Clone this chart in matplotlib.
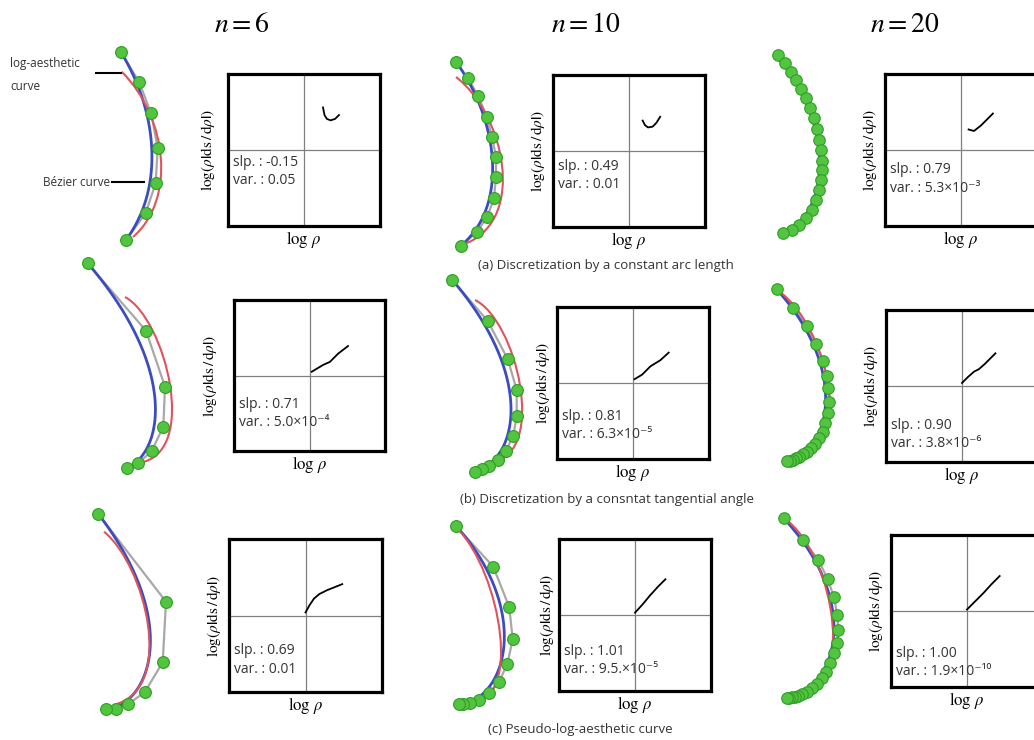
import numpy as np
import matplotlib.pyplot as plt
from matplotlib.path import Path
from matplotlib.patches import PathPatch

plt.rcParams['mathtext.fontset'] = 'stix'
SANS = ['Open Sans', 'DejaVu Sans']

W, H = 1034, 740

# green control points of the Bezier curves (page pixel coords)
ctrl_a6 = [(120.7, 51.7), (139, 81.7), (151, 113), (157.7, 147.7), (155.7, 183),
           (145.7, 213), (126, 240)]
ctrl_a10 = [(456, 61.7), (467.7, 78.3), (478.3, 96), (486.7, 116.7), (492, 136.7),
            (496, 156.7), (496, 176.7), (494, 198.3), (487.3, 216.7), (476.7, 232.3),
            (460.7, 246)]
ctrl_a20 = [(778.3, 55), (785, 63.3), (790.7, 71.7), (796, 80), (800.7, 89.3),
            (806, 98.3), (810, 108.3), (814, 118.3), (817.3, 129.3), (819.3, 140),
            (821, 150), (821.7, 160.7), (821.7, 170), (820.7, 180), (819, 190),
            (816, 200), (811.7, 210), (806, 218.3), (799.3, 225), (791.7, 230),
            (782.7, 232.7)]
ctrl_b6 = [(87.7, 263.3), (146, 330.7), (165, 386.7), (163.3, 426.7), (151.7, 451),
           (138.3, 463.3), (126.7, 468.3)]
ctrl_b10 = [(452.3, 280), (487.7, 321), (507.7, 359), (516.7, 390), (516.7, 415.7),
            (513.3, 435.7), (506, 450.7), (497.7, 460.3), (489.3, 465.7),
            (481.7, 469.3), (475, 471.7)]
ctrl_b20 = [(776.7, 289.3), (793.3, 307.7), (806.7, 326), (816, 344), (822.7, 360.7),
            (826.7, 376), (828.3, 388.3), (828.7, 401.7), (827.7, 413.3),
            (825.3, 423.3), (822.7, 431.7), (819.3, 438.3), (815, 444), (810.7, 448.3),
            (806.7, 451.7), (802.7, 454.3), (799, 456.7), (795.7, 458.3),
            (792.7, 459.7), (790, 460.7), (787.3, 461.3)]
ctrl_c6 = [(98.3, 514), (166, 601.7), (162.7, 662.3), (145, 691.7), (128.3, 704.3),
           (116, 709), (106, 709)]
ctrl_c10 = [(456, 526), (493.3, 566.7), (509.3, 607.3), (512.7, 639.3), (507.3, 664.3),
            (499, 681.7), (489.3, 693.3), (479.3, 700), (470, 703.3), (463.3, 704),
            (459.3, 704)]
ctrl_c20 = [(784, 518.3), (803.3, 540), (818.3, 560), (827.7, 579), (834, 597.3),
            (837.3, 615), (838.3, 630), (836.7, 642.7), (834, 653.3), (830, 663.3),
            (826, 671.7), (821.7, 678.3), (816.7, 684), (811.7, 688.3), (806.7, 691.7),
            (802.3, 694), (798.3, 695.7), (795, 696.7), (791.7, 697.3), (789.3, 697.7),
            (786.7, 697.7)]

# red log-aesthetic curves as cubic Bezier handles
red_a6 = [(121.7, 71.7), (168, 118), (176, 200), (133, 237)]
red_a10 = [(456, 77), (505, 115), (526, 218), (467, 243)]
red_a20 = [(779, 60), (828, 105), (840, 224), (784, 232)]
red_b6 = [(125, 297), (165, 318), (200.7, 455.3), (138, 463)]
red_b10 = [(475, 300), (516, 320), (548.4, 452.3), (491.7, 463)]
red_b20 = [(780, 292), (830, 330), (858, 459), (788, 461)]
red_c6 = [(104, 531.7), (145, 565), (177.2, 689.4), (113.3, 705)]
red_c10 = [(456.7, 528), (500, 570), (527, 712), (463, 703)]
red_c20 = [(784, 518), (836, 555), (860, 703), (788, 697)]

# log rho  vs  log(rho |ds/drho|)
lr_a6 = [(0.25, 0.56), (0.27, 0.46), (0.30, 0.41), (0.35, 0.39), (0.41, 0.41), (0.46, 0.46)]
lr_a10 = [(0.18, 0.40), (0.21, 0.34), (0.25, 0.31), (0.31, 0.32), (0.36, 0.37), (0.41, 0.45)]
lr_a20 = [(0.10, 0.27), (0.17, 0.25), (0.26, 0.32), (0.35, 0.41), (0.42, 0.48)]
lr_b6 = [(0.03, 0.05), (0.18, 0.14), (0.27, 0.18), (0.38, 0.29), (0.51, 0.39)]
lr_b10 = [(0.02, 0.05), (0.12, 0.11), (0.23, 0.22), (0.36, 0.30), (0.47, 0.40)]
lr_b20 = [(0.0, 0.04), (0.08, 0.12), (0.16, 0.19), (0.22, 0.22), (0.30, 0.29), (0.44, 0.43)]
lr_c6 = [(0.0, 0.04), (0.05, 0.13), (0.11, 0.22), (0.18, 0.28), (0.28, 0.33), (0.48, 0.41)]
lr_c10 = [(0.0, 0.03), (0.10, 0.14), (0.20, 0.26), (0.30, 0.37), (0.40, 0.47)]
lr_c20 = [(0.0, 0.02), (0.11, 0.13), (0.22, 0.24), (0.32, 0.35), (0.43, 0.46)]

slopes = ['-0.15', '0.49', '0.79', '0.71', '0.81', '0.90', '0.69', '1.01', '1.00']
variances = ['0.05', '0.01', '5.3×10⁻³', '5.0×10⁻⁴', '6.3×10⁻⁵', '3.8×10⁻⁶',
             '0.01', '9.5.×10⁻⁵', '1.9×10⁻¹⁰']
n_titles = ['$n=6$', '$n=10$', '$n=20$']
captions = ['(a) Discretization by a constant arc length',
            '(b) Discretization by a consntat tangential angle',
            '(c) Pseudo-log-aesthetic curve']

ctrl_sets = [ctrl_a6, ctrl_a10, ctrl_a20, ctrl_b6, ctrl_b10, ctrl_b20,
             ctrl_c6, ctrl_c10, ctrl_c20]
red_sets = [red_a6, red_a10, red_a20, red_b6, red_b10, red_b20, red_c6, red_c10, red_c20]
lr_sets = [lr_a6, lr_a10, lr_a20, lr_b6, lr_b10, lr_b20, lr_c6, lr_c10, lr_c20]

# box layout: left, top, size (px), text y (axes frac) for slp line, ylabel offset
boxes = [(228, 74, 152, 0.42, -0.13), (553, 75, 152, 0.40, -0.10), (885, 74, 152, 0.37, -0.10),
         (234, 300, 151, 0.31, -0.16), (557, 307, 152, 0.28, -0.09), (886, 310, 152, 0.24, -0.10),
         (229, 539, 153, 0.27, -0.10), (559, 539, 152, 0.26, -0.08), (891, 535, 152, 0.22, -0.10)]


def bezier(pts, num=300):
    # de Casteljau evaluation of a Bezier curve
    t = np.linspace(0, 1, num)[:, None, None]
    p = np.repeat(np.asarray(pts, float)[None], len(t), axis=0)
    while p.shape[1] > 1:
        p = (1 - t) * p[:, :-1] + t * p[:, 1:]
    return p[:, 0, 0], p[:, 0, 1]


fig = plt.figure(figsize=(W / 100, H / 100), dpi=100)
fig.patch.set_facecolor('white')

canvas = fig.add_axes([0, 0, 1, 1])
canvas.set_xlim(0, W)
canvas.set_ylim(H, 0)
canvas.axis('off')

for i, (ctrl, red) in enumerate(zip(ctrl_sets, red_sets)):
    xs, ys = zip(*ctrl)
    canvas.plot(xs, ys, color='#a8a8a8', lw=1.6, zorder=2)
    bx, by = bezier(ctrl)
    canvas.plot(bx, by, color='#3b4cc0', lw=2.0, zorder=3)
    path = Path(red, [Path.MOVETO, Path.CURVE4, Path.CURVE4, Path.CURVE4])
    canvas.add_patch(PathPatch(path, fill=False, edgecolor='#e0525c', lw=1.5, zorder=4))
    ms = 8.5 if len(ctrl) < 20 else 8.3
    canvas.plot(xs, ys, 'o', ms=ms, mfc='#52c440', mec='#2f9e25', mew=0.8, zorder=5)

# annotations of the first curve panel
canvas.plot([96, 121], [73, 73], color='k', lw=1.5, zorder=6)
canvas.plot([112, 144], [182, 182], color='k', lw=1.5, zorder=6)
canvas.text(10, 64, 'log-aesthetic', family=SANS, fontsize=8.5, va='center', color='#333333')
canvas.text(10, 86, 'curve', family=SANS, fontsize=8.5, va='center', color='#333333')
canvas.text(110, 182, 'Bézier curve', family=SANS, fontsize=8.5, va='center', ha='right',
            color='#333333')

for i, (lr, box) in enumerate(zip(lr_sets, boxes)):
    left, top, size, ty, yl = box
    ax = fig.add_axes([left / W, 1 - (top + size) / H, size / W, size / H])
    ax.set_xlim(-1, 1)
    ax.set_ylim(-1, 1)
    ax.set_xticks([])
    ax.set_yticks([])
    for s in ax.spines.values():
        s.set_linewidth(2.3)
    ax.axhline(0, color='#808080', lw=0.9)
    ax.axvline(0, color='#808080', lw=0.9)
    lx, ly = zip(*lr)
    ax.plot(lx, ly, color='k', lw=1.3)
    ax.text(0.03, ty, 'slp. : ' + slopes[i], transform=ax.transAxes, family=SANS,
            fontsize=10, va='center', color='#333333')
    ax.text(0.03, ty - 0.12, 'var. : ' + variances[i], transform=ax.transAxes, family=SANS,
            fontsize=10, va='center', color='#333333')
    ax.text(yl, 0.5, r'$\mathrm{log}(\rho\mathbf{|}\mathrm{ds}\,/\,\mathrm{d}\rho\mathbf{|})$',
            transform=ax.transAxes, rotation=90, ha='center', va='center', fontsize=11)
    ax.text(0.5, -0.09, r'$\mathrm{log}\ \rho$', transform=ax.transAxes,
            ha='center', va='center', fontsize=12)

for x, t in zip([242, 586, 905], n_titles):
    fig.text(x / W, 1 - 24 / H, t, ha='center', va='center', fontsize=20)

for (x, y), c in zip([(606, 265), (607, 499), (580, 730)], captions):
    fig.text(x / W, 1 - y / H, c, ha='center', va='center', family=SANS, fontsize=9.5,
             color='#333333')

fig.savefig('out.png', dpi=100)
